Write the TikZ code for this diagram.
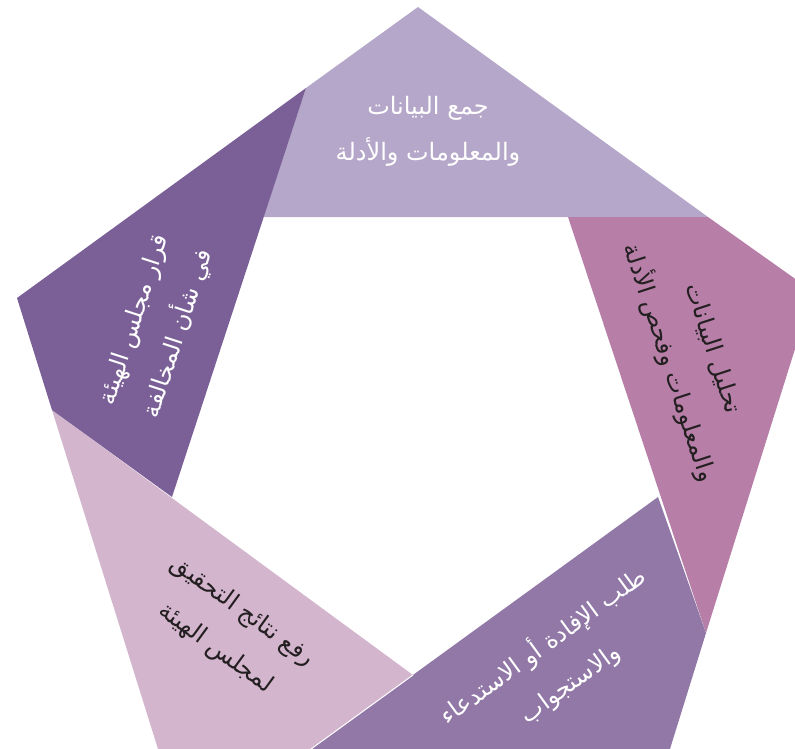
\documentclass[tikz,border=0pt]{standalone}
\usepackage{fontspec}
\newfontfamily\arabicfont[Script=Arabic]{DejaVu Sans}
\TeXXeTstate=1
\definecolor{topc}{HTML}{B5A7C9}
\definecolor{rightc}{HTML}{B77FA8}
\definecolor{botc}{HTML}{9178A7}
\definecolor{blc}{HTML}{D4B5CE}
\definecolor{leftc}{HTML}{7B6097}
\definecolor{darktext}{HTML}{231F20}
\begin{document}
\begin{tikzpicture}[x=1pt,y=-1pt,
  lbl/.style={font=\arabicfont\fontsize{24}{46}\selectfont, align=center, inner sep=0pt},
  sep/.style={white, line width=1pt}]
\useasboundingbox (0,0) rectangle (795,748);
\clip (0,0) rectangle (795,748);
% outer vertices
\coordinate (Vt) at (418,7);
\coordinate (Vr) at (813,291.5);
\coordinate (Vbr) at (665,765);
\coordinate (Vbl) at (163,765);
\coordinate (Vl) at (17,298);
% inner vertices
\coordinate (Ptl) at (263,217);
\coordinate (Ptr) at (568,217);
\coordinate (Pr) at (658,497);
\coordinate (Pb) at (413,675);
\coordinate (Pl) at (172,497);
% extension points on the outer edges
\coordinate (Etr) at (708,217);
\coordinate (Er) at (706,633);
\coordinate (Eb) at (289,765);
\coordinate (El) at (52,410);
\coordinate (Etl) at (306,88);
% pieces
\fill[topc] (Ptl) -- (Etr) -- (Vt) -- (Etl) -- cycle;
\fill[rightc] (Ptr) -- (Er) -- (Vr) -- (Etr) -- cycle;
\fill[botc] (Pr) -- (Eb) -- (Vbr) -- (Er) -- cycle;
\fill[blc] (Pb) -- (El) -- (Vbl) -- (Eb) -- cycle;
\fill[leftc] (Pl) -- (Etl) -- (Vl) -- (El) -- cycle;
\draw[sep] (Pb) -- (Eb);
% labels
\node[lbl, text=white] (ttop) at (428,131)
  {\beginR جمع البيانات\endR\\\beginR والمعلومات والأدلة\endR};
\node[lbl, text=darktext, rotate=-72] (tright) at (690,356)
  {\beginR تحليل البيانات\endR\\\beginR والمعلومات وفحص الأدلة\endR};
\node[lbl, text=white, rotate=36] (tbot) at (556,664)
  {\beginR طلب الإفادة أو الاستدعاء\endR\\\beginR والاستجواب\endR};
\node[lbl, text=darktext, rotate=-36] (tbl) at (229,630)
  {\beginR رفع نتائج التحقيق\endR\\\beginR لمجلس الهيئة\endR};
\node[lbl, text=white, rotate=72] (tleft) at (157,327)
  {\beginR قرار مجلس الهيئة\endR\\\beginR في شأن المخالفة\endR};
\end{tikzpicture}
\end{document}
